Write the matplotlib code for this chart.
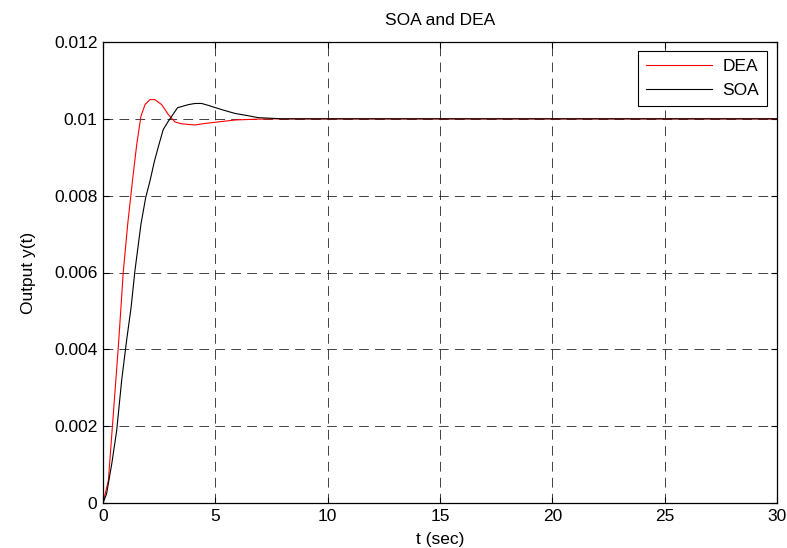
import matplotlib
matplotlib.use("Agg")
import matplotlib.pyplot as plt

plt.rcParams['font.family'] = ['Liberation Sans', 'DejaVu Sans']
plt.rcParams['lines.scale_dashes'] = False

# DEA response
t_dea = [0, 0.24, 0.46, 0.68, 0.8, 0.9, 1.1, 1.31, 1.5, 1.69, 1.87, 2.09, 2.31,
         2.61, 2.91, 3.2, 3.5, 4.1, 4.54, 5.13, 5.88, 6.77, 7.7, 10, 15, 20, 25, 30]
y_dea = [0, 0.00059, 0.00232, 0.00405, 0.0051, 0.0060, 0.00726, 0.00838, 0.00933,
         0.01007, 0.01037, 0.0105, 0.0105, 0.01037, 0.01011, 0.00992, 0.00987,
         0.00984, 0.00988, 0.00992, 0.00997, 0.00999, 0.01, 0.01, 0.01, 0.01, 0.01, 0.01]

# SOA response
t_soa = [0, 0.16, 0.39, 0.61, 0.83, 1.05, 1.25, 1.42, 1.69, 1.9, 2.09, 2.29, 2.49,
         2.68, 2.91, 3.32, 3.8, 4.1, 4.39, 4.69, 5.28, 5.88, 6.47, 6.91, 7.66, 7.95,
         10, 15, 20, 25, 30]
y_soa = [0, 0.00024, 0.00102, 0.00189, 0.00319, 0.00423, 0.00509, 0.00604, 0.00726,
         0.00795, 0.00838, 0.0089, 0.00933, 0.00972, 0.00994, 0.01029, 0.01037,
         0.0104, 0.0104, 0.01035, 0.01024, 0.01014, 0.01008, 0.01003, 0.01001, 0.01,
         0.01, 0.01, 0.01, 0.01, 0.01]

x_ticks = [0, 5, 10, 15, 20, 25, 30]
y_ticks = [0, 0.002, 0.004, 0.006, 0.008, 0.01, 0.012]
y_tick_labels = ['0', '0.002', '0.004', '0.006', '0.008', '0.01', '0.012']

FS = 12.5

fig = plt.figure(figsize=(7.87, 5.48), dpi=100)
ax = fig.add_axes([103/787, 45/548, 674/787, 461/548])

ax.plot(t_dea, y_dea, color='#ff0000', lw=0.8, label='DEA')
ax.plot(t_soa, y_soa, color='black', lw=0.8, label='SOA')

ax.set_xlim(0, 30)
ax.set_ylim(0, 0.012)
ax.set_xticks(x_ticks)
ax.set_xticklabels([str(v) for v in x_ticks])
ax.set_yticks(y_ticks)
ax.set_yticklabels(y_tick_labels)
ax.grid(True, color='#222222', linestyle=(0, (7, 4.5)), linewidth=0.6)
ax.tick_params(direction='in', top=True, right=True, length=4.5, width=0.8,
               labelsize=FS, pad=4)
for s in ax.spines.values():
    s.set_linewidth(0.9)

ax.set_title('SOA and DEA', fontsize=FS, pad=12)
ax.set_xlabel('t (sec)', fontsize=FS, labelpad=6)
ax.set_ylabel('Output y(t)', fontsize=FS, labelpad=13)

leg = ax.legend(loc='upper right', bbox_to_anchor=(0.985, 0.98), borderaxespad=0,
                fancybox=False, framealpha=1, edgecolor='black', fontsize=FS,
                handlelength=3.8, handletextpad=0.6, borderpad=0.45, labelspacing=0.5)
leg.get_frame().set_linewidth(0.8)

fig.savefig('out.png', dpi=100)
